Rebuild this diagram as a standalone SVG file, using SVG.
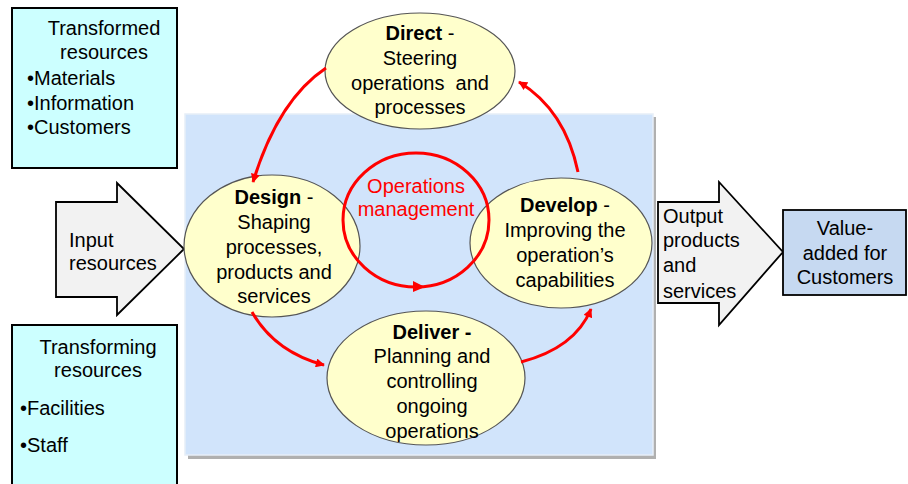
<svg xmlns="http://www.w3.org/2000/svg" width="908" height="484" viewBox="0 0 908 484">
<defs>
<style>
text{font-family:"Liberation Sans",Arial,sans-serif;font-size:20px;fill:#000}
.c{text-anchor:middle}
.b{font-weight:bold}
.res{fill:#ccffff;stroke:#000;stroke-width:2}
.node{fill:#ffffcc;stroke:#555;stroke-width:1.2}
.big{fill:#f2f2f2;stroke:#000;stroke-width:1.8}
.con{fill:none;stroke:#ff0000;stroke-width:3}
.red{fill:#ff0000}
</style>
<marker id="ah" viewBox="0 0 10 10" refX="9" refY="5" markerWidth="10" markerHeight="9" markerUnits="userSpaceOnUse" orient="auto">
<path d="M0,0 L10,5 L0,10 Z" fill="#ff0000"/>
</marker>
</defs>
<rect width="908" height="484" fill="#fff"/>

<g id="ops-area">
<rect x="188" y="117" width="468" height="342" fill="#b0b0b0"/>
<rect x="185" y="114" width="468" height="341" fill="#d1e4fb" stroke="#e6eef8" stroke-width="1.5"/>
</g>

<g id="transformed">
<rect class="res" x="12" y="8" width="165" height="160"/>
<text class="c" x="104" y="35">Transformed</text>
<text class="c" x="104" y="59">resources</text>
<text x="27" y="85">•Materials</text>
<text x="27" y="110">•Information</text>
<text x="27" y="134">•Customers</text>
</g>

<g id="transforming">
<rect class="res" x="12" y="325" width="165" height="170"/>
<text class="c" x="98" y="354">Transforming</text>
<text class="c" x="98" y="377">resources</text>
<text x="20" y="415">•Facilities</text>
<text x="20" y="452">•Staff</text>
</g>

<g id="input">
<path class="big" d="M56,202 L117,202 L117,183 L184,249 L117,315 L117,297 L56,297 Z"/>
<text x="69" y="247">Input</text>
<text x="69" y="270">resources</text>
</g>

<g id="output">
<path class="big" d="M658,202 L719,202 L719,182 L783,252 L719,325 L719,303 L658,303 Z"/>
<text x="663" y="223">Output</text>
<text x="663" y="247">products</text>
<text x="663" y="272">and</text>
<text x="663" y="298">services</text>
</g>

<g id="value">
<rect x="783" y="210" width="123" height="85" fill="#c6d9f1" stroke="#000" stroke-width="1.8"/>
<text class="c" x="845" y="235">Value-</text>
<text class="c" x="845" y="260">added for</text>
<text class="c" x="845" y="284">Customers</text>
</g>

<g id="direct">
<ellipse class="node" cx="420" cy="71" rx="95" ry="58"/>
<text class="c" x="420" y="40"><tspan class="b">Direct</tspan> -</text>
<text class="c" x="420" y="65">Steering</text>
<text class="c" x="420" y="90" style="white-space:pre">operations  and</text>
<text class="c" x="420" y="114">processes</text>
</g>

<g id="design">
<ellipse class="node" cx="272" cy="246" rx="88" ry="71"/>
<text class="c" x="274" y="204"><tspan class="b">Design</tspan> -</text>
<text class="c" x="274" y="229">Shaping</text>
<text class="c" x="274" y="254">processes,</text>
<text class="c" x="274" y="279">products and</text>
<text class="c" x="274" y="303">services</text>
</g>

<g id="develop">
<ellipse class="node" cx="561" cy="243" rx="91" ry="65"/>
<text class="c" x="565" y="212"><tspan class="b">Develop</tspan> -</text>
<text class="c" x="565" y="237">Improving the</text>
<text class="c" x="565" y="262">operation’s</text>
<text class="c" x="565" y="287">capabilities</text>
</g>

<g id="deliver">
<ellipse class="node" cx="426" cy="378" rx="99" ry="67"/>
<text class="c b" x="432" y="339">Deliver -</text>
<text class="c" x="432" y="363">Planning and</text>
<text class="c" x="432" y="388">controlling</text>
<text class="c" x="432" y="413">ongoing</text>
<text class="c" x="432" y="438">operations</text>
</g>

<g id="ops-mgmt">
<ellipse cx="416" cy="220" rx="73" ry="67" fill="none" stroke="#ff0000" stroke-width="3"/>
<text class="c" x="416" y="193" style="fill:#ff0000">Operations</text>
<text class="c" x="416" y="216" style="fill:#ff0000">management</text>
</g>

<g id="connectors">
<path class="con" d="M326,68 Q278,100 253,182" marker-end="url(#ah)"/>
<path class="con" d="M578,172 Q565,110 519,82" marker-end="url(#ah)"/>
<path class="con" d="M252,312 Q275,352 324,365" marker-end="url(#ah)"/>
<path class="con" d="M521,362 Q575,348 591,309" marker-end="url(#ah)"/>
<path class="red" d="M413,281 L425,287 L413,292 Z"/>
</g>
</svg>
